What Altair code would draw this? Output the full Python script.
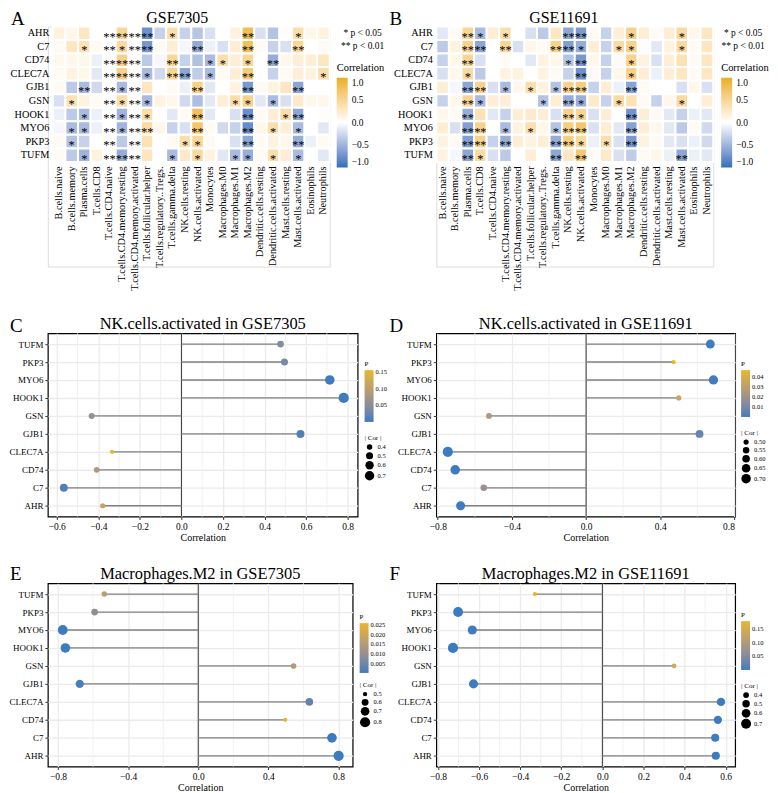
import altair as alt
import pandas as pd

SERIF = "Liberation Serif"

genes = ["AHR", "C7", "CD74", "CLEC7A", "GJB1", "GSN", "HOOK1", "MYO6", "PKP3", "TUFM"]
cells = ["B.cells.naive", "B.cells.memory", "Plasma.cells", "T.cells.CD8", "T.cells.CD4.naive",
         "T.cells.CD4.memory.resting", "T.cells.CD4.memory.activated", "T.cells.follicular.helper",
         "T.cells.regulatory..Tregs.", "T.cells.gamma.delta", "NK.cells.resting", "NK.cells.activated",
         "Monocytes", "Macrophages.M0", "Macrophages.M1", "Macrophages.M2", "Dendritic.cells.resting",
         "Dendritic.cells.activated", "Mast.cells.resting", "Mast.cells.activated", "Eosinophils", "Neutrophils"]

# ---- heatmap A : GSE7305 (rows follow `genes`) ----
gse7305_cor = [
    [0.15, 0.1, 0.3, 0.0, 0.0, 0.5, 0.0, -0.75, -0.3, 0.4, -0.3, -0.38, -0.2, 0.0, 0.15, 0.81, -0.2, -0.4, 0.03, 0.4, 0.1, 0.15],
    [0.05, 0.3, 0.35, 0.05, 0.0, 0.45, 0.0, -0.7, 0.05, 0.2, -0.05, -0.57, -0.1, -0.2, 0.2, 0.77, 0.05, -0.3, -0.2, 0.5, 0.0, 0.05],
    [0.08, 0.1, 0.1, -0.1, 0.0, 0.55, 0.0, -0.35, -0.05, 0.5, -0.3, -0.41, -0.45, 0.4, 0.2, 0.5, 0.0, -0.55, 0.1, 0.2, 0.2, 0.3],
    [0.05, 0.15, 0.1, -0.15, 0.0, 0.55, 0.0, -0.45, -0.25, 0.5, -0.6, -0.33, -0.45, 0.05, 0.2, 0.64, 0.0, -0.3, 0.05, 0.2, 0.15, 0.4],
    [0.05, -0.35, -0.45, -0.25, 0.0, -0.45, 0.0, 0.3, 0.0, 0.05, -0.1, 0.57, -0.15, 0.0, 0.15, -0.68, 0.05, 0.15, 0.3, -0.6, 0.0, 0.0],
    [-0.2, 0.35, 0.15, 0.05, 0.0, 0.4, 0.0, -0.45, 0.15, 0.1, -0.25, -0.43, -0.15, 0.2, 0.4, 0.55, -0.15, -0.45, -0.2, 0.25, 0.1, 0.1],
    [-0.1, -0.35, -0.45, -0.1, 0.0, -0.5, 0.0, 0.4, 0.0, -0.15, 0.05, 0.78, -0.15, 0.0, -0.2, -0.76, 0.05, 0.2, 0.4, -0.6, 0.0, 0.02],
    [-0.05, -0.45, -0.45, -0.1, 0.0, -0.5, 0.0, 0.45, 0.1, -0.3, -0.2, 0.71, 0.05, -0.25, -0.3, -0.78, 0.1, 0.4, 0.2, -0.45, 0.0, -0.15],
    [0.05, -0.4, -0.3, 0.0, 0.0, -0.35, 0.0, 0.35, 0.0, 0.05, 0.4, 0.49, 0.05, 0.0, -0.2, -0.6, 0.05, 0.15, 0.1, -0.55, -0.1, 0.05],
    [0.05, -0.35, -0.5, 0.15, 0.0, -0.55, 0.0, 0.3, 0.0, -0.45, 0.25, 0.47, 0.15, -0.15, -0.45, -0.54, 0.05, 0.4, 0.2, -0.45, 0.0, -0.15],
]
gse7305_sig = [
    ["", "", "", "", "**", "**", "**", "**", "", "*", "", "", "", "", "", "**", "", "", "", "*", "", ""],
    ["", "", "*", "", "**", "*", "**", "**", "", "", "", "**", "", "", "", "**", "", "", "", "**", "", ""],
    ["", "", "", "", "**", "**", "**", "", "", "**", "", "", "*", "*", "", "*", "", "**", "", "", "", ""],
    ["", "", "", "", "**", "**", "**", "*", "", "**", "**", "", "*", "", "", "**", "", "", "", "", "", "*"],
    ["", "", "**", "", "**", "*", "**", "", "", "", "", "**", "", "", "", "**", "", "", "", "**", "", ""],
    ["", "*", "", "", "**", "*", "**", "*", "", "", "", "", "", "", "*", "*", "", "*", "", "", "", ""],
    ["", "", "*", "", "**", "*", "**", "*", "", "", "", "**", "", "", "", "**", "", "", "*", "**", "", ""],
    ["", "*", "*", "", "**", "*", "**", "**", "", "", "", "**", "", "", "", "**", "", "*", "", "*", "", ""],
    ["", "*", "", "", "**", "", "**", "", "", "", "*", "*", "", "", "", "**", "", "", "", "**", "", ""],
    ["", "", "*", "", "**", "**", "**", "", "", "*", "", "*", "", "", "*", "*", "", "*", "", "*", "", ""],
]

# ---- heatmap B : GSE11691 ----
gse11691_cor = [
    [-0.15, 0.05, 0.5, -0.45, 0.2, 0.4, 0.0, -0.2, -0.35, 0.3, -0.6, -0.68, 0.05, -0.3, 0.2, 0.55, 0.2, 0.05, 0.2, 0.45, 0.1, 0.3],
    [-0.35, 0.15, 0.55, -0.6, 0.0, 0.5, -0.2, 0.1, 0.05, 0.55, -0.65, -0.55, 0.2, -0.3, 0.45, 0.55, 0.02, -0.15, 0.15, 0.45, 0.05, 0.3],
    [-0.3, 0.1, 0.5, -0.2, 0.0, 0.05, 0.0, -0.15, 0.15, 0.1, -0.4, -0.7, 0.1, -0.3, 0.05, 0.56, 0.15, -0.2, 0.2, 0.35, 0.05, 0.3],
    [-0.2, 0.1, 0.45, -0.35, 0.0, 0.15, 0.15, 0.0, 0.15, 0.05, -0.3, -0.74, 0.05, -0.3, 0.1, 0.57, 0.2, -0.1, 0.2, 0.3, 0.05, 0.3],
    [0.2, -0.05, -0.6, 0.55, -0.2, -0.45, 0.1, 0.4, 0.15, -0.4, 0.55, 0.61, -0.3, 0.2, -0.1, -0.62, 0.05, 0.0, 0.0, -0.2, 0.1, -0.2],
    [-0.3, 0.1, 0.5, -0.45, 0.2, 0.2, 0.0, 0.0, -0.4, 0.2, -0.55, -0.53, 0.25, -0.3, 0.45, 0.35, 0.05, -0.3, 0.1, 0.45, 0.0, 0.2],
    [0.1, 0.05, -0.55, 0.35, -0.15, -0.3, 0.2, 0.25, 0.2, -0.2, 0.55, 0.5, -0.2, 0.2, 0.0, -0.73, 0.2, 0.05, -0.15, -0.3, -0.1, -0.15],
    [0.2, -0.2, -0.65, 0.55, 0.0, -0.45, 0.15, 0.4, 0.1, -0.4, 0.6, 0.69, -0.2, 0.2, -0.15, -0.63, 0.2, 0.1, -0.15, -0.35, 0.05, -0.25],
    [0.15, 0.05, -0.65, 0.55, -0.3, -0.55, 0.2, 0.15, 0.2, -0.55, 0.6, 0.47, -0.1, 0.4, -0.2, -0.7, 0.15, 0.05, -0.15, -0.2, -0.1, -0.25],
    [0.15, -0.05, -0.6, 0.45, -0.2, -0.35, 0.0, 0.2, 0.0, -0.6, 0.3, 0.67, 0.05, 0.25, -0.2, -0.33, 0.05, 0.1, -0.1, -0.6, -0.1, -0.15],
]
gse11691_sig = [
    ["", "", "**", "*", "", "*", "", "", "", "", "**", "**", "", "", "", "*", "", "", "", "*", "", ""],
    ["", "", "**", "**", "", "**", "", "", "", "**", "**", "*", "", "", "*", "*", "", "", "", "*", "", ""],
    ["", "", "**", "", "", "", "", "", "", "", "*", "**", "", "", "", "*", "", "", "", "", "", ""],
    ["", "", "*", "", "", "", "", "", "", "", "", "**", "", "", "", "*", "", "", "", "", "", ""],
    ["", "", "**", "**", "", "*", "", "*", "", "*", "**", "**", "", "", "", "**", "", "", "", "", "", ""],
    ["", "", "**", "*", "", "", "", "", "*", "", "**", "*", "", "", "*", "", "", "", "", "*", "", ""],
    ["", "", "**", "", "", "", "", "", "", "", "**", "*", "", "", "", "**", "", "", "", "", "", ""],
    ["", "", "**", "**", "", "*", "", "*", "", "*", "**", "**", "", "", "", "**", "", "", "", "", "", ""],
    ["", "", "**", "**", "", "**", "", "", "", "**", "**", "*", "", "*", "", "**", "", "", "", "", "", ""],
    ["", "", "**", "*", "", "", "", "", "", "**", "", "**", "", "", "", "", "", "", "", "**", "", ""],
]

# ---- lollipop panels (top to bottom order) ----
lolli_genes = ["TUFM", "PKP3", "MYO6", "HOOK1", "GSN", "GJB1", "CLEC7A", "CD74", "C7", "AHR"]
nk_7305_cor = [0.477, 0.496, 0.714, 0.781, -0.432, 0.573, -0.334, -0.408, -0.566, -0.379]
nk_7305_p = [0.045, 0.036, 0.0012, 0.0002, 0.062, 0.010, 0.155, 0.085, 0.009, 0.108]
nk_11691_cor = [0.670, 0.472, 0.687, 0.500, -0.524, 0.612, -0.746, -0.706, -0.552, -0.677]
nk_11691_p = [0.0008, 0.047, 0.0006, 0.036, 0.026, 0.007, 0.0001, 0.0002, 0.019, 0.0005]
m2_7305_cor = [-0.536, -0.591, -0.773, -0.758, 0.544, -0.676, 0.634, 0.496, 0.763, 0.801]
m2_7305_p = [0.016, 0.009, 0.0002, 0.0003, 0.015, 0.0012, 0.0035, 0.026, 0.0002, 0.0001]
m2_11691_cor = [-0.328, -0.702, -0.633, -0.727, 0.349, -0.627, 0.577, 0.562, 0.549, 0.552]
m2_11691_p = [0.18, 0.0005, 0.002, 0.0003, 0.150, 0.002, 0.001, 0.0012, 0.0014, 0.0013]

HEAT_RANGE = ["#2F6FBA", "#FFFFFF", "#E8AF1E"]
P_RANGE = ["#3B7BC0", "#E9B52A"]
MINUS = "replace(datum.label, '-', '\u2212')"


def text_layer(txt, x, y, size, align="left", line_break=None, line_height=None):
    kw = dict(font=SERIF, fontSize=size, align=align, baseline="alphabetic", color="black")
    if line_break:
        kw["lineBreak"] = line_break
        kw["lineHeight"] = line_height
    return alt.Chart(pd.DataFrame({"t": [txt]})).mark_text(**kw).encode(
        x=alt.value(x), y=alt.value(y), text="t:N")


def heatmap(cor_rows, sig_rows, title, letter, width, x_range, y_off, title_x, letter_x, leg_x, star_x):
    recs = []
    for g, vals, sigs in zip(genes, cor_rows, sig_rows):
        for c, v, s in zip(cells, vals, sigs):
            recs.append({"gene": g, "cell": c, "cor": v, "star": s})
    df = pd.DataFrame(recs)
    x_axis = alt.Axis(title=None, labelAngle=-90, labelFont=SERIF, labelFontSize=10.3, ticks=False,
                      domain=False, labelPadding=4, offset=-105, labelLimit=300)
    y_axis = alt.Axis(title=None, labelFont=SERIF, labelFontSize=10.3, ticks=False, domain=False,
                      labelPadding=4, offset=y_off)
    xs = alt.Scale(range=x_range, paddingInner=0, paddingOuter=0)
    ys = alt.Scale(range=[0, 136], paddingInner=0, paddingOuter=0)
    rect = alt.Chart(df).mark_rect(stroke="white", strokeWidth=2).encode(
        x=alt.X("cell:N", sort=cells, scale=xs, axis=x_axis),
        y=alt.Y("gene:N", sort=genes, scale=ys, axis=y_axis),
        color=alt.Color("cor:Q", scale=alt.Scale(domain=[-1, 0, 1], range=HEAT_RANGE, interpolate="lab"),
                        legend=alt.Legend(title="Correlation", orient="none", legendX=leg_x, legendY=37,
                                          direction="vertical", gradientLength=90, gradientThickness=11,
                                          titleFont=SERIF, titleFontSize=10.5, titleFontWeight="normal",
                                          labelFont=SERIF, labelFontSize=9.5, values=[-1, -0.5, 0, 0.5, 1],
                                          format=".1f", labelExpr=MINUS, titlePadding=4, labelOffset=4,
                                          gradientStrokeWidth=0)),
    )
    stars = alt.Chart(df).mark_text(font=SERIF, fontSize=12.5, dy=3.5, color="black").encode(
        x=alt.X("cell:N", sort=cells, scale=xs, axis=x_axis),
        y=alt.Y("gene:N", sort=genes, scale=ys, axis=y_axis),
        text="star:N",
    )
    layers = [rect, stars,
              text_layer(title, title_x, -3, 16, align="center"),
              text_layer(letter, letter_x, -1, 19),
              text_layer("* p < 0.05\n** p < 0.01", star_x, 10, 9.5, align="center",
                         line_break="\n", line_height=12.5)]
    return alt.layer(*layers).properties(width=width, height=241)


def lollipop(cor, p, title, letter, width, xdomain, xticks, p_vals, p_fmt, s_vals, s_fmt,
             leg_x, leg_py, leg_sy, glen, letter_x, letter_y, height=184):
    df = pd.DataFrame({"gene": lolli_genes, "cor": cor, "p": p})
    df["abscor"] = df["cor"].abs()
    df["zero"] = 0.0
    minor = [(a + b) / 2 for a, b in zip(xticks[:-1], xticks[1:])]
    step = xticks[1] - xticks[0]
    if xticks[0] - step / 2 > xdomain[0]:
        minor.insert(0, xticks[0] - step / 2)
    if xticks[-1] + step / 2 < xdomain[1]:
        minor.append(xticks[-1] + step / 2)
    xs = alt.Scale(domain=xdomain, nice=False, zero=False)
    x_axis = alt.Axis(title="Correlation", values=xticks, format=".1f", labelExpr=MINUS,
                      labelFont=SERIF, labelFontSize=9.5, titleFont=SERIF, titleFontSize=10,
                      titleFontWeight="normal", titlePadding=2, tickSize=3, tickColor="#333333",
                      domain=False, grid=True, gridColor="#EBEBEB", gridWidth=1.3, labelPadding=2)
    ys = alt.Scale(type="point", padding=0.6)
    y_axis = alt.Axis(title=None, labelFont=SERIF, labelFontSize=9, tickSize=3, tickColor="#333333",
                      domain=False, grid=True, gridColor="#EBEBEB", gridWidth=1.3, labelPadding=2)
    y = alt.Y("gene:N", sort=lolli_genes, scale=ys, axis=y_axis)

    minor_l = alt.Chart(pd.DataFrame({"m": minor})).mark_rule(color="#EFEFEF", strokeWidth=0.9).encode(
        x=alt.X("m:Q", scale=xs, axis=x_axis))
    zero_l = alt.Chart(pd.DataFrame({"zero": [0.0]})).mark_rule(color="#333333", strokeWidth=1).encode(
        x=alt.X("zero:Q", scale=xs, axis=x_axis))
    seg = alt.Chart(df).mark_rule(color="#808080", strokeWidth=1.3).encode(
        y=y, x=alt.X("zero:Q", scale=xs, axis=x_axis), x2="cor:Q")
    pts = alt.Chart(df).mark_circle(opacity=1).encode(
        y=y, x=alt.X("cor:Q", scale=xs, axis=x_axis),
        color=alt.Color("p:Q", scale=alt.Scale(range=P_RANGE, interpolate="lab", nice=False, zero=False),
                        legend=alt.Legend(title="P", orient="none", legendX=leg_x, legendY=leg_py,
                                          direction="vertical", gradientLength=glen, gradientThickness=9,
                                          values=p_vals, format=p_fmt, titleFont=SERIF, titleFontSize=7,
                                          titleFontWeight="normal", labelFont=SERIF, labelFontSize=6.5,
                                          labelOffset=2, titlePadding=3, gradientStrokeWidth=0)),
        size=alt.Size("abscor:Q", scale=alt.Scale(zero=False, nice=False, range=[18, 105]),
                      legend=alt.Legend(title="| Cor |", orient="none", legendX=leg_x, legendY=leg_sy,
                                        values=s_vals, format=s_fmt, symbolFillColor="black",
                                        symbolStrokeWidth=0, symbolType="circle", titleFont=SERIF,
                                        titleFontSize=7, titleFontWeight="normal", labelFont=SERIF,
                                        labelFontSize=6.5, labelOffset=3, titlePadding=3, rowPadding=1)),
    )
    let = text_layer(letter, letter_x, letter_y, 19)
    ttl = text_layer(title, width / 2, -4, 16.5, align="center")
    return alt.layer(minor_l, zero_l, seg, pts, let, ttl).properties(
        width=width, height=height,
        view=alt.ViewBackground(stroke="black", strokeWidth=1.2),
    )


A = heatmap(gse7305_cor, gse7305_sig, "GSE7305", "A", 283, [5, 283], -5, 130, -37, 290, 316)
B = heatmap(gse11691_cor, gse11691_sig, "GSE11691", "B", 278, [0, 278], 0, 128, -47, 286, 308)

C = lollipop(nk_7305_cor, nk_7305_p, "NK.cells.activated in GSE7305", "C", 311, [-0.643, 0.848],
             [-0.6, -0.4, -0.2, 0.0, 0.2, 0.4, 0.6, 0.8], [0.05, 0.10, 0.15], ".2f",
             [0.4, 0.5, 0.6, 0.7], ".1f", 318, 27, 101, 52, -38, -1)
D = lollipop(nk_11691_cor, nk_11691_p, "NK.cells.activated in GSE11691", "D", 300, [-0.808, 0.804],
             [-0.8, -0.4, 0.0, 0.4, 0.8], [0.01, 0.02, 0.03, 0.04], ".2f",
             [0.50, 0.55, 0.60, 0.65, 0.70], ".2f", 306, 27, 96, 47, -47, -1)
E = lollipop(m2_7305_cor, m2_7305_p, "Macrophages.M2 in GSE7305", "E", 306, [-0.858, 0.881],
             [-0.8, -0.4, 0.0, 0.4, 0.8], [0.005, 0.010, 0.015, 0.020, 0.025], ".3f",
             [0.5, 0.6, 0.7, 0.8], ".1f", 313, 30, 98, 50, -38, -3)
F = lollipop(m2_11691_cor, m2_11691_p, "Macrophages.M2 in GSE11691", "F", 300, [-0.808, 0.646],
             [-0.8, -0.6, -0.4, -0.2, 0.0, 0.2, 0.4, 0.6], [0.05, 0.10, 0.15], ".2f",
             [0.4, 0.5, 0.6, 0.7], ".1f", 306, 28, 99, 49, -47, -3)

chart = alt.concat(A, B, C, D, E, F, columns=2, spacing={"row": 67, "column": 79},
                   bounds="flush", align="each").resolve_scale(
    color="independent", size="independent", x="independent", y="independent"
).resolve_legend(color="independent", size="independent").properties(padding=0).configure_view(
    stroke=None).configure(font=SERIF)

chart.save("out.html", embed_options={"renderer": "svg", "actions": False})
